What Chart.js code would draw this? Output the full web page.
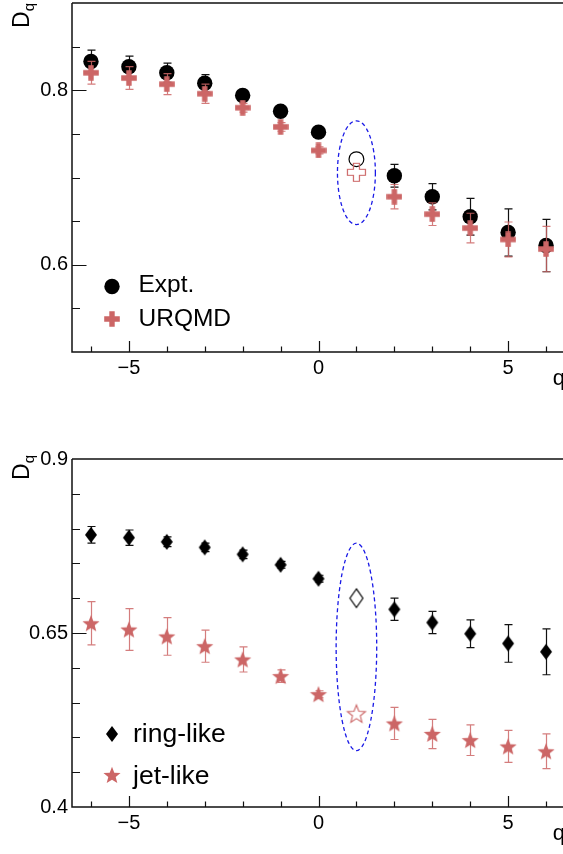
<!DOCTYPE html>
<html>
<head>
<meta charset="utf-8">
<script src="https://cdn.jsdelivr.net/npm/chart.js@4.4.1/dist/chart.umd.min.js"></script>
<style>
  html, body { margin: 0; padding: 0; background: #fff; width: 563px; height: 854px; overflow: hidden; }
  #wrap { position: relative; width: 563px; height: 854px; overflow: hidden; background: #fff; }
  canvas { position: absolute; left: 0; }
  #topChart { top: 0; }
  #bottomChart { top: 400px; }
</style>
</head>
<body>
<div id="wrap">
  <canvas id="topChart" width="570" height="400"></canvas>
  <canvas id="bottomChart" width="570" height="454"></canvas>
</div>
<script>
// ---- data ----------------------------------------------------------
const Q = [-6, -5, -4, -3, -2, -1, 0, 1, 2, 3, 4, 5, 6];
const HOLLOW_Q = 1;                       // order drawn with open markers

const EXPT      = [0.833, 0.827, 0.820, 0.808, 0.794, 0.776, 0.752, 0.721, 0.702, 0.678, 0.655, 0.637, 0.622];
const EXPT_ERR  = [0.013, 0.012, 0.011, 0.010, 0.006, 0.005, 0.004, 0,     0.013, 0.015, 0.021, 0.027, 0.030];
const URQMD     = [0.820, 0.814, 0.807, 0.796, 0.780, 0.758, 0.731, 0.706, 0.678, 0.658, 0.642, 0.629, 0.618];
const URQMD_ERR = [0.013, 0.013, 0.012, 0.011, 0.005, 0.005, 0.004, 0,     0.014, 0.013, 0.017, 0.020, 0.026];

const RING      = [0.791, 0.787, 0.781, 0.773, 0.763, 0.748, 0.728, 0.700, 0.684, 0.665, 0.649, 0.635, 0.623];
const RING_ERR  = [0.012, 0.011, 0.007, 0.006, 0.006, 0.005, 0.005, 0,     0.016, 0.016, 0.020, 0.027, 0.033];
const JET       = [0.664, 0.655, 0.645, 0.631, 0.612, 0.588, 0.562, 0.534, 0.520, 0.505, 0.496, 0.487, 0.480];
const JET_ERR   = [0.031, 0.030, 0.027, 0.023, 0.018, 0.009, 0.005, 0,     0.023, 0.021, 0.022, 0.023, 0.025];

// dashed rings around the q = 1 points: centre and half-extent in axis units
const TOP_RING    = { q: 1, d: 0.7055, halfQ: 0.50, halfD: 0.0595 };
const BOTTOM_RING = { q: 1, d: 0.6300, halfQ: 0.535, halfD: 0.149 };

// axes
const X_RANGE = [-6.5, 6.5];
const X_LABELS = [-5, 0, 5];
const X_MINOR = [-6, -5, -4, -3, -2, -1, 0, 1, 2, 3, 4, 5, 6];
const TOP_Y_RANGE = [0.5, 0.9];
const TOP_Y_LABELS = [0.6, 0.8];
const TOP_Y_MINOR = [0.55, 0.6, 0.65, 0.7, 0.75, 0.8, 0.85];
const BOT_Y_RANGE = [0.4, 0.9];
const BOT_Y_LABELS = [0.4, 0.65, 0.9];
const BOT_Y_MINOR = [0.45, 0.5, 0.55, 0.6, 0.65, 0.7, 0.75, 0.8, 0.85];

// ---- style ---------------------------------------------------------
const FONT = '"Liberation Sans", Arial, Helvetica, sans-serif';
const RED = '#cc6666';
const RED_BAR = 'rgba(204,102,102,0.85)';
const BLACK = '#000';

// ---- marker images -------------------------------------------------
function sprite(w, h, draw) {
  const c = document.createElement('canvas');
  c.width = w; c.height = h;
  draw(c.getContext('2d'), w / 2, h / 2);
  return c;
}
function plusPath(g, cx, cy, s, t) {
  const a = s / 2, b = t / 2;
  g.beginPath();
  g.moveTo(cx - b, cy - a); g.lineTo(cx + b, cy - a); g.lineTo(cx + b, cy - b);
  g.lineTo(cx + a, cy - b); g.lineTo(cx + a, cy + b); g.lineTo(cx + b, cy + b);
  g.lineTo(cx + b, cy + a); g.lineTo(cx - b, cy + a); g.lineTo(cx - b, cy + b);
  g.lineTo(cx - a, cy + b); g.lineTo(cx - a, cy - b); g.lineTo(cx - b, cy - b);
  g.closePath();
}
function diamondPath(g, cx, cy, hw, hh) {
  g.beginPath();
  g.moveTo(cx, cy - hh); g.lineTo(cx + hw, cy); g.lineTo(cx, cy + hh); g.lineTo(cx - hw, cy);
  g.closePath();
}
function starPath(g, cx, cy, ro, ri) {
  g.beginPath();
  for (let i = 0; i < 10; i++) {
    const r = i % 2 ? ri : ro;
    const a = -Math.PI / 2 + i * Math.PI / 5;
    const px = cx + r * Math.cos(a), py = cy + r * Math.sin(a);
    i ? g.lineTo(px, py) : g.moveTo(px, py);
  }
  g.closePath();
}
const plusFull = sprite(16, 16, (g, cx, cy) => { plusPath(g, cx, cy, 15.6, 5.4); g.fillStyle = RED; g.fill(); });
const plusOpen = sprite(21, 21, (g, cx, cy) => { plusPath(g, cx, cy, 18, 6); g.strokeStyle = RED; g.lineWidth = 1.2; g.stroke(); });
const diamondFull = sprite(14, 18, (g, cx, cy) => { diamondPath(g, cx, cy, 6, 8); g.fillStyle = BLACK; g.fill(); });
const diamondOpen = sprite(16, 22, (g, cx, cy) => { diamondPath(g, cx, cy, 6.5, 9.3); g.strokeStyle = BLACK; g.lineWidth = 1.2; g.stroke(); });
const starFull = sprite(20, 20, (g, cx, cy) => { starPath(g, cx, cy + 0.8, 9, 3.9); g.fillStyle = RED; g.fill(); });
const starOpen = sprite(22, 22, (g, cx, cy) => { starPath(g, cx, cy + 0.8, 9.5, 4.1); g.strokeStyle = RED; g.lineWidth = 1.1; g.stroke(); });

const HOLLOW_IDX = Q.indexOf(HOLLOW_Q);
const pts = arr => Q.map((q, i) => ({ x: q, y: arr[i] }));
const pick = (full, open) => c => (c.dataIndex === HOLLOW_IDX ? open : full);

// ---- plugins -------------------------------------------------------
const errorBars = {
  id: 'errorBars',
  beforeDatasetDraw(chart, args) {
    const ds = chart.data.datasets[args.index];
    if (!ds.errors) return;
    const xs = chart.scales.x, ys = chart.scales.y, ctx = chart.ctx;
    ctx.save();
    ctx.strokeStyle = ds.errorColor;
    ctx.lineWidth = 1.2;
    ds.data.forEach((p, i) => {
      const e = ds.errors[i];
      if (!e) return;
      const x = Math.round(xs.getPixelForValue(p.x)) + 0.5;
      const y1 = ys.getPixelForValue(p.y + e), y2 = ys.getPixelForValue(p.y - e);
      ctx.beginPath();
      ctx.moveTo(x, y1); ctx.lineTo(x, y2);
      ctx.moveTo(x - 4, y1); ctx.lineTo(x + 4, y1);
      ctx.moveTo(x - 4, y2); ctx.lineTo(x + 4, y2);
      ctx.stroke();
    });
    ctx.restore();
  }
};

const frame = {
  id: 'frame',
  afterDatasetsDraw(chart, args, o) {
    const { ctx, chartArea: a } = chart;
    const xs = chart.scales.x, ys = chart.scales.y;
    ctx.save();
    ctx.strokeStyle = '#111';
    ctx.lineWidth = 1.5;
    ctx.beginPath();
    ctx.moveTo(a.left, a.top); ctx.lineTo(a.right, a.top);
    ctx.moveTo(a.left, a.top); ctx.lineTo(a.left, a.bottom); ctx.lineTo(a.right, a.bottom);
    ctx.stroke();
    ctx.lineWidth = 1.2;
    ctx.beginPath();
    o.xMinor.forEach(v => {
      const x = Math.round(xs.getPixelForValue(v)) + 0.5;
      const len = o.xMajor.includes(v) ? 11 : 5.5;
      ctx.moveTo(x, a.bottom); ctx.lineTo(x, a.bottom - len);
    });
    o.yMinor.forEach(v => {
      const y = Math.round(ys.getPixelForValue(v)) + 0.5;
      const len = o.yMajor.some(m => Math.abs(m - v) < 1e-6) ? 14.5 : 8;
      ctx.moveTo(a.left, y); ctx.lineTo(a.left + len, y);
    });
    ctx.stroke();
    ctx.restore();
  }
};

const ring = {
  id: 'ring',
  afterDatasetsDraw(chart, args, o) {
    const xs = chart.scales.x, ys = chart.scales.y, ctx = chart.ctx;
    const cx = xs.getPixelForValue(o.q), cy = ys.getPixelForValue(o.d);
    const rx = Math.abs(xs.getPixelForValue(o.q + o.halfQ) - cx);
    const ry = Math.abs(ys.getPixelForValue(o.d + o.halfD) - cy);
    ctx.save();
    ctx.strokeStyle = '#1a1ae6';
    ctx.lineWidth = 1.3;
    ctx.setLineDash([4, 3]);
    ctx.beginPath();
    ctx.ellipse(cx, cy, rx, ry, 0, 0, Math.PI * 2);
    ctx.stroke();
    ctx.restore();
  }
};

const titles = {
  id: 'titles',
  afterDraw(chart, args, o) {
    const ctx = chart.ctx, a = chart.chartArea;
    ctx.save();
    ctx.fillStyle = '#000';
    // y title D_q, rotated, ending at the top of the axis
    ctx.translate(29.3, a.top + o.yTitleShift);
    ctx.rotate(-Math.PI / 2);
    ctx.textAlign = 'right';
    ctx.textBaseline = 'alphabetic';
    ctx.font = '15px ' + FONT;
    ctx.fillText('q', 0, 4.8);
    const qw = ctx.measureText('q').width;
    ctx.font = '23px ' + FONT;
    ctx.fillText('D', -qw, 0);
    ctx.restore();
    // x title q at the end of the axis
    ctx.save();
    ctx.fillStyle = '#000';
    ctx.font = '22px ' + FONT;
    ctx.textAlign = 'right';
    ctx.fillText('q', a.right, a.bottom + 33);
    ctx.restore();
    // legend
    ctx.save();
    ctx.font = o.legendFont + 'px ' + FONT;
    ctx.fillStyle = '#000';
    ctx.textAlign = 'left';
    o.legend.forEach(it => {
      if (it.mark === 'dot') {
        ctx.beginPath(); ctx.arc(it.mx, it.my, 7.7, 0, Math.PI * 2); ctx.fill();
      } else {
        ctx.drawImage(it.mark, it.mx - it.mark.width / 2, it.my - it.mark.height / 2);
      }
      ctx.fillText(it.text, it.tx, it.ty);
    });
    ctx.restore();
  }
};

// ---- chart builder -------------------------------------------------
const fmtX = v => (v < 0 ? '\u2212' + Math.abs(v) : String(v));
const fmtY = v => String(+v.toFixed(2));

function build(id, datasets, yRange, yLabels, yMinor, padTop, xHeight, extra) {
  return new Chart(document.getElementById(id), {
    type: 'scatter',
    data: { datasets },
    options: {
      responsive: false,
      animation: false,
      devicePixelRatio: 1,
      layout: { autoPadding: false, padding: { top: padTop, right: 5, left: 0, bottom: 0 } },
      scales: {
        x: {
          type: 'linear', min: X_RANGE[0], max: X_RANGE[1],
          grid: { display: false, drawTicks: false }, border: { display: false },
          afterBuildTicks: s => { s.ticks = X_LABELS.map(v => ({ value: v })); },
          afterFit: s => { s.height = xHeight; s.paddingLeft = 0; s.paddingRight = 0; },
          ticks: { font: { family: FONT, size: 20 }, color: '#000', padding: 4,
                   maxRotation: 0, autoSkip: false, callback: v => fmtX(v) }
        },
        y: {
          type: 'linear', min: yRange[0], max: yRange[1],
          grid: { display: false, drawTicks: false }, border: { display: false },
          afterBuildTicks: s => { s.ticks = yLabels.map(v => ({ value: v })); },
          afterFit: s => { s.width = 72; s.paddingTop = 0; s.paddingBottom = 0; },
          ticks: { font: { family: FONT, size: 20 }, color: '#000', padding: 4,
                   autoSkip: false, callback: v => fmtY(v) }
        }
      },
      plugins: {
        legend: { display: false },
        tooltip: { enabled: false },
        frame: { xMinor: X_MINOR, xMajor: X_LABELS, yMinor, yMajor: yLabels },
        ring: extra.ring,
        titles: extra.titles
      }
    },
    plugins: [errorBars, frame, ring, titles]
  });
}

// upper panel: measured vs. model
build('topChart', [
  {
    label: 'URQMD', order: 0, data: pts(URQMD), errors: URQMD_ERR, errorColor: RED_BAR,
    pointStyle: pick(plusFull, plusOpen), pointRadius: 8, borderWidth: 0,
    backgroundColor: RED, borderColor: RED
  },
  {
    label: 'Expt.', order: 1, data: pts(EXPT), errors: EXPT_ERR, errorColor: '#111',
    pointStyle: 'circle', pointRadius: c => (c.dataIndex === HOLLOW_IDX ? 7.4 : 7.7),
    backgroundColor: c => (c.dataIndex === HOLLOW_IDX ? 'rgba(0,0,0,0)' : BLACK),
    borderColor: BLACK, borderWidth: c => (c.dataIndex === HOLLOW_IDX ? 1.2 : 0)
  }
], TOP_Y_RANGE, TOP_Y_LABELS, TOP_Y_MINOR, 3, 48, {
  ring: TOP_RING,
  titles: {
    yTitleShift: 0, legendFont: 24.5,
    legend: [
      { mark: 'dot', mx: 112, my: 286.5, text: 'Expt.', tx: 138.5, ty: 292 },
      { mark: plusFull, mx: 112, my: 319, text: 'URQMD', tx: 138.5, ty: 325.5 }
    ]
  }
});

// lower panel: ring-like vs. jet-like events
build('bottomChart', [
  {
    label: 'ring-like', data: pts(RING), errors: RING_ERR, errorColor: '#111',
    pointStyle: pick(diamondFull, diamondOpen), pointRadius: 8, borderWidth: 0,
    backgroundColor: BLACK, borderColor: BLACK
  },
  {
    label: 'jet-like', data: pts(JET), errors: JET_ERR, errorColor: RED_BAR,
    pointStyle: pick(starFull, starOpen), pointRadius: 8, borderWidth: 0,
    backgroundColor: RED, borderColor: RED
  }
], BOT_Y_RANGE, BOT_Y_LABELS, BOT_Y_MINOR, 59, 47, {
  ring: BOTTOM_RING,
  titles: {
    yTitleShift: -4, legendFont: 26.5,
    legend: [
      { mark: diamondFull, mx: 112, my: 334, text: 'ring-like', tx: 133, ty: 341.5 },
      { mark: starFull, mx: 112, my: 375, text: 'jet-like', tx: 133, ty: 384 }
    ]
  }
});
</script>
</body>
</html>
